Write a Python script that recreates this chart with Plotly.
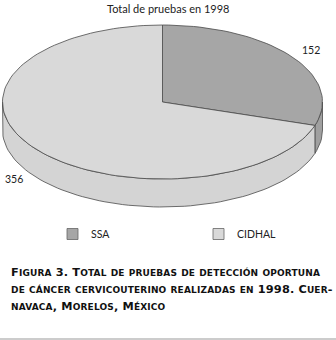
import math
import plotly.graph_objects as go

# ---- data ----
categories = ["SSA", "CIDHAL"]
values = [152, 356]
title_text = "Total de pruebas en 1998"
caption_lines = [
    "Figura 3. Total de pruebas de detección oportuna",
    "de cáncer cervicouterino realizadas en 1998. Cuer-",
    "navaca, Morelos, México",
]

# ---- style / geometry (pixel space) ----
W, H = 336, 340
CX, CY, A, B, DEPTH = 162.5, 102.0, 160.0, 77.0, 28.0
top_colors = ["#a6a6a6", "#d9d9d9"]
side_colors = ["#a0a0a0", "#d4d4d4"]
LINE = "#4a4a4a"
FONT = "Lato"

def pt(theta, dy=0.0, scale=1.0):
    t = math.radians(theta)
    return CX + scale * A * math.sin(t), CY - scale * B * math.cos(t) + dy

def arc(s, e, dy=0.0, n=160):
    k = max(2, int(n * (e - s) / 360) + 2)
    return [pt(s + (e - s) * i / (k - 1), dy) for i in range(k)]

fig = go.Figure()
total = sum(values)
angles = []
acc = 0.0
for v in values:
    s = acc / total * 360
    acc += v
    e = acc / total * 360
    angles.append((s, e))

# side walls (front half: 90..270)
for (s, e), col in zip(angles, side_colors):
    s2, e2 = max(s, 90), min(e, 270)
    if e2 <= s2:
        continue
    top = arc(s2, e2)
    bot = arc(s2, e2, DEPTH)[::-1]
    pts = top + bot + [top[0]]
    fig.add_trace(go.Scatter(x=[p[0] for p in pts], y=[p[1] for p in pts],
                             mode="lines", fill="toself", fillcolor=col,
                             line=dict(color=LINE, width=0.8),
                             hoverinfo="skip", showlegend=False))

# top faces
for (s, e), col, name in zip(angles, top_colors, categories):
    pts = [(CX, CY)] + arc(s, e) + [(CX, CY)]
    fig.add_trace(go.Scatter(x=[p[0] for p in pts], y=[p[1] for p in pts],
                             mode="lines", fill="toself", fillcolor=col,
                             line=dict(color=LINE, width=0.8),
                             name=name, hoverinfo="skip", showlegend=False))

# value labels
for (s, e), v in zip(angles, values):
    m = (s + e) / 2
    x, y = pt(m, scale=1.15)
    if math.cos(math.radians(m)) < 0:
        y += DEPTH - 3
    fig.add_annotation(x=x, y=y, text=str(v), showarrow=False,
                       font=dict(family=FONT, size=10.5, color="#222"))

# legend (manual)
leg_x = [72.5, 218.5]
for lx, col, name in zip(leg_x, top_colors, categories):
    fig.add_trace(go.Scatter(x=[lx], y=[234], mode="markers",
                             marker=dict(symbol="square", size=11, color=col,
                                         line=dict(color="#666", width=0.8)),
                             hoverinfo="skip", showlegend=False))
    fig.add_annotation(x=lx + 16, y=234, text=name, showarrow=False,
                       xanchor="left", font=dict(family=FONT, size=10.5, color="#222"))

# title
fig.add_annotation(x=168, y=8, text=title_text, showarrow=False,
                   font=dict(family=FONT, size=11, color="#222"))

# caption in small caps
def small_caps(line, small=9.0, ls=0.15):
    out = []
    for ch in line:
        if ch.isalpha() and ch.islower():
            out.append(f"<span style='font-size:{small}px;letter-spacing:{ls}px'>{ch.upper()}</span>")
        else:
            out.append(f"<span style='letter-spacing:{ls}px'>{ch}</span>")
    return "".join(out)

cap_y = [272, 289, 306]
for yy, ln in zip(cap_y, caption_lines):
    fig.add_annotation(x=9, y=yy, text="<b>" + small_caps(ln) + "</b>",
                       showarrow=False, xanchor="left",
                       font=dict(family="DejaVu Sans", size=11.3, color="#111"))

fig.add_shape(type="line", x0=0, x1=W, y0=339, y1=339,
              line=dict(color="#bbbbbb", width=1.5))

fig.update_layout(width=W, height=H, margin=dict(l=0, r=0, t=0, b=0),
                  paper_bgcolor="white", plot_bgcolor="white",
                  xaxis=dict(range=[0, W], visible=False, fixedrange=True),
                  yaxis=dict(range=[H, 0], visible=False, fixedrange=True),
                  showlegend=False)
fig.write_html("out.html", config={"displayModeBar": False},
               post_script="document.body.style.margin='0';document.body.style.overflow='hidden';")
